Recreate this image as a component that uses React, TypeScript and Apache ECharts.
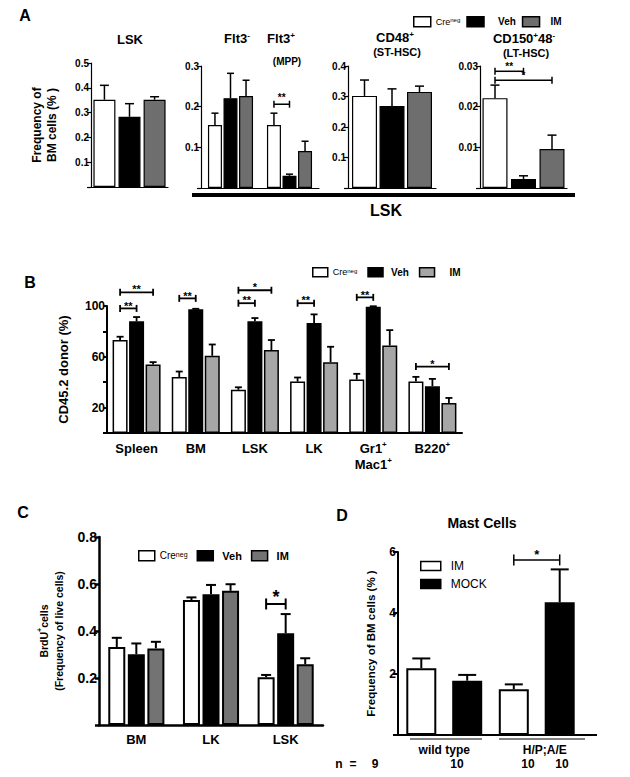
import React, { useEffect, useRef } from 'react';
import * as echarts from 'echarts';

const FONT = "'Liberation Sans', Arial, Helvetica, sans-serif";

// ---------- Panel A : frequency of BM cells (%) ----------
const aGroups = ['Creneg', 'Veh', 'IM'];
const aColors = ['#ffffff', '#000000', '#6e6e6e'];
const a1Cats = ['LSK'];
const a1Means = [[0.352], [0.283], [0.352]];
const a1Errs = [[0.41], [0.336], [0.364]];
const a1Axis = [0, 0.5, 0.1];
const a2Cats = ['Flt3-', 'Flt3+'];
const a2Means = [[0.155, 0.155], [0.221, 0.03], [0.226, 0.091]];
const a2Errs = [[0.184, 0.184], [0.282, 0.034], [0.265, 0.115]];
const a2Axis = [0, 0.3, 0.1];
const a2Sig = [[1, 0, 1, 1, 0.206]];
const a2SigLabels = ['**'];
const a3Cats = ['CD48+'];
const a3Means = [[0.302], [0.269], [0.315]];
const a3Errs = [[0.354], [0.325], [0.334]];
const a3Axis = [0, 0.4, 0.1];
const a4Cats = ['CD150+48-'];
const a4Means = [[0.0221], [0.0022], [0.0096]];
const a4Errs = [[0.0253], [0.003], [0.013]];
const a4Axis = [0, 0.03, 0.01];
const a4Sig = [[0, 0, 0, 1, 0.0287], [0, 0, 0, 2, 0.0265]];
const a4SigLabels = ['**', '*'];

// ---------- Panel B : CD45.2 donor (%) ----------
const bColors = ['#ffffff', '#000000', '#a6a6a6'];
const bCats = ['Spleen', 'BM', 'LSK', 'LK', 'Gr1+\nMac1+', 'B220+'];
const bMeans = [
  [73.2, 44, 34, 40.5, 42.1, 40.5],
  [87.9, 97.4, 87.9, 86.6, 99.5, 36.8],
  [53.9, 60.8, 65.3, 55.8, 68.9, 23.7],
];
const bErrs = [
  [75.8, 48.4, 36, 43.7, 46.6, 44.2],
  [91.3, 97.8, 90.5, 93.4, 99.8, 42.6],
  [55.8, 69.7, 73.2, 67.9, 81, 27.6],
];
const bAxis = [0, 100, 20];
const bTickLabels = [20, 60, 100];
const bSig = [
  [0, 0, 0, 1, 98.1],
  [0, 0, 0, 2, 110.8],
  [1, 0, 1, 1, 106],
  [2, 0, 2, 1, 102.2],
  [2, 0, 2, 2, 112.4],
  [3, 0, 3, 1, 102.2],
  [4, 0, 4, 1, 106.8],
  [5, 0, 5, 2, 52.3],
];
const bSigLabels = ['**', '**', '**', '**', '*', '**', '**', '*'];

// ---------- Panel C : BrdU+ cells ----------
const cColors = ['#ffffff', '#000000', '#737373'];
const cCats = ['BM', 'LK', 'LSK'];
const cMeans = [
  [0.332, 0.532, 0.203],
  [0.301, 0.556, 0.39],
  [0.326, 0.571, 0.258],
];
const cErrs = [
  [0.371, 0.543, 0.213],
  [0.347, 0.596, 0.472],
  [0.354, 0.599, 0.284],
];
const cAxis = [0, 0.8, 0.2];
const cSig = [[2, 0, 2, 1, 0.515]];
const cSigLabels = ['*'];

// ---------- Panel D : Mast cells ----------
const dGroups = ['IM', 'MOCK'];
const dColors = ['#ffffff', '#000000'];
const dCats = ['wild type', 'H/P;A/E'];
const dMeans = [
  [2.19, 1.5],
  [1.78, 4.35],
];
const dErrs = [
  [2.51, 1.66],
  [1.97, 5.43],
];
const dAxis = [0, 6, 2];
const dSig = [[1, 0, 1, 1, 5.74]];
const dSigLabels = ['*'];
const dN = ['9', '10', '10', '10'];

type PanelCfg = {
  grid: number;
  names: string[];
  colors: string[];
  means: number[][];
  errs: number[][];
  bw: number;
  gap: number;
  border: number;
  capW: number;
  errLW: number;
  sig?: number[][];
  sigLabels?: string[];
  sigFont?: number;
  starD?: number;
  tickH?: number;
  sigLW?: number;
};

function panelSeries(p: PanelCfg): any[] {
  const n = p.means.length;
  const step = p.bw * (1 + p.gap);
  const total = n * p.bw + (n - 1) * p.bw * p.gap;
  const xOf = (cx: number, i: number) => cx - total / 2 + i * step + p.bw / 2;
  const out: any[] = p.means.map((m, i) => ({
    type: 'bar',
    name: p.names[i],
    xAxisIndex: p.grid,
    yAxisIndex: p.grid,
    data: m,
    barWidth: p.bw,
    barGap: p.gap * 100 + '%',
    itemStyle: { color: p.colors[i], borderColor: '#000', borderWidth: p.border },
    emphasis: { disabled: true },
    silent: true,
  }));
  const errData: number[][] = [];
  p.means.forEach((m, i) => m.forEach((v, c) => errData.push([c, v, p.errs[i][c], i])));
  out.push({
    type: 'custom',
    name: 'err' + p.grid,
    xAxisIndex: p.grid,
    yAxisIndex: p.grid,
    data: errData,
    encode: { x: 0, y: [1, 2] },
    clip: false,
    silent: true,
    z: 3,
    renderItem: (params: any, api: any) => {
      const c = api.value(0);
      const v = api.value(1);
      const e = api.value(2);
      const i = api.value(3);
      const p0 = api.coord([c, v]);
      const p1 = api.coord([c, e]);
      const x = xOf(p0[0], i);
      const st = { stroke: '#000', lineWidth: p.errLW };
      return {
        type: 'group',
        children: [
          { type: 'line', shape: { x1: x, y1: p0[1], x2: x, y2: p1[1] }, style: st },
          { type: 'line', shape: { x1: x - p.capW / 2, y1: p1[1], x2: x + p.capW / 2, y2: p1[1] }, style: st },
        ],
      };
    },
  });
  if (p.sig) {
    const fs = p.sigFont || 10;
    const h = p.tickH || 3.5;
    const d = p.starD || 6;
    const lw = p.sigLW || 1.5;
    out.push({
      type: 'custom',
      name: 'sig' + p.grid,
      xAxisIndex: p.grid,
      yAxisIndex: p.grid,
      data: p.sig,
      encode: { x: 0, y: 4 },
      clip: false,
      silent: true,
      z: 4,
      renderItem: (params: any, api: any) => {
        const c1 = api.value(0);
        const i1 = api.value(1);
        const c2 = api.value(2);
        const i2 = api.value(3);
        const y = api.value(4);
        const pa = api.coord([c1, y]);
        const pb = api.coord([c2, y]);
        const x1 = xOf(pa[0], i1);
        const x2 = xOf(pb[0], i2);
        const yy = pa[1];
        const st = { stroke: '#000', lineWidth: lw };
        return {
          type: 'group',
          children: [
            { type: 'line', shape: { x1, y1: yy, x2, y2: yy }, style: st },
            { type: 'line', shape: { x1, y1: yy - h, x2: x1, y2: yy + h }, style: st },
            { type: 'line', shape: { x1: x2, y1: yy - h, x2, y2: yy + h }, style: st },
            {
              type: 'text',
              x: (x1 + x2) / 2,
              y: yy - d + 0.2 * fs,
              style: {
                text: (p.sigLabels || [])[params.dataIndex],
                fill: '#000',
                fontSize: fs,
                fontWeight: 'bold',
                fontFamily: FONT,
                align: 'center',
                verticalAlign: 'middle',
              },
            },
          ],
        };
      },
    });
  }
  return out;
}

function xCat(grid: number, data: string[], lw: number, label?: any): any {
  return {
    type: 'category',
    gridIndex: grid,
    data,
    axisTick: { show: false },
    axisLine: { show: true, lineStyle: { color: '#000', width: lw } },
    axisLabel: label || { show: false },
  };
}

function yVal(grid: number, ax: number[], fmt: (v: number) => string, fs: number, lw: number, tickLen: number, extra?: any): any {
  return {
    type: 'value',
    gridIndex: grid,
    min: ax[0],
    max: ax[1],
    interval: ax[2],
    axisLine: { show: true, lineStyle: { color: '#000', width: lw } },
    axisTick: { show: true, length: tickLen, lineStyle: { color: '#000', width: lw } },
    axisLabel: { formatter: fmt, color: '#000', fontSize: fs, fontWeight: 'bold', fontFamily: FONT, margin: 2 },
    splitLine: { show: false },
    ...(extra || {}),
  };
}

const fmt1 = (v: number) => (v === 0 ? '' : v.toFixed(1));
const fmt2 = (v: number) => (v === 0 ? '' : v.toFixed(2));
const fmtB = (v: number) => (bTickLabels.includes(Math.round(v)) ? String(Math.round(v)) : '');
const fmtD = (v: number) => (v === 0 ? '' : String(v));

function legendCfg(left: number, top: number, colors: string[], iw: number, ih: number, gap: number, fs: number, padV: number, padI: number): any {
  return {
    left,
    top,
    orient: 'horizontal',
    icon: 'rect',
    itemWidth: iw,
    itemHeight: ih,
    itemGap: gap,
    selectedMode: false,
    data: aGroups.map((nm, i) => ({
      name: nm,
      icon: 'rect',
      itemStyle: { color: colors[i], borderColor: '#000', borderWidth: 1.5 },
    })),
    formatter: (name: string) =>
      name === 'Creneg' ? '{r|Cre}{s|neg}' : name === 'Veh' ? '{v|Veh}' : '{m|IM}',
    textStyle: {
      color: '#000',
      fontFamily: FONT,
      rich: {
        r: { fontSize: fs - 1, fontFamily: FONT, color: '#000' },
        s: { fontSize: fs - 4, fontFamily: FONT, color: '#000', verticalAlign: 'top' },
        v: { fontSize: fs, fontWeight: 'bold', fontFamily: FONT, color: '#000', padding: [0, 0, 0, padV] },
        m: { fontSize: fs, fontWeight: 'bold', fontFamily: FONT, color: '#000', padding: [0, 0, 0, padI] },
      },
    },
  };
}

function supTitle(x: number, y: number, main: string, sup: string, fs: number): any {
  return {
    type: 'text',
    x,
    y,
    style: {
      text: '{t|' + main + '}' + (sup ? '{s|' + sup + '}' : ''),
      align: 'center',
      verticalAlign: 'middle',
      fill: '#000',
      rich: {
        t: { fontSize: fs, fontWeight: 'bold', fontFamily: FONT, fill: '#000' },
        s: { fontSize: fs - 5, fontWeight: 'bold', fontFamily: FONT, fill: '#000', verticalAlign: 'top' },
      },
    },
  };
}

function plainText(x: number, y: number, text: string, fs: number, bold = true, align = 'center'): any {
  return {
    type: 'text',
    x,
    y,
    style: {
      text,
      fill: '#000',
      fontSize: fs,
      fontWeight: bold ? 'bold' : 'normal',
      fontFamily: FONT,
      align,
      verticalAlign: 'middle',
    },
  };
}

function buildOption(): any {
  const series = [
    ...panelSeries({ grid: 0, names: aGroups, colors: aColors, means: a1Means, errs: a1Errs, bw: 22, gap: 0.14, border: 1.2, capW: 9, errLW: 1.5 }),
    ...panelSeries({ grid: 1, names: aGroups, colors: aColors, means: a2Means, errs: a2Errs, bw: 14, gap: 0.11, border: 1.2, capW: 7, errLW: 1.5, sig: a2Sig, sigLabels: a2SigLabels, sigFont: 10, starD: 9, tickH: 3.5 }),
    ...panelSeries({ grid: 2, names: aGroups, colors: aColors, means: a3Means, errs: a3Errs, bw: 25, gap: 0.1, border: 1.2, capW: 9, errLW: 1.5 }),
    ...panelSeries({ grid: 3, names: aGroups, colors: aColors, means: a4Means, errs: a4Errs, bw: 25, gap: 0.14, border: 1.2, capW: 9, errLW: 1.5, sig: a4Sig, sigLabels: a4SigLabels, sigFont: 10, starD: 7, tickH: 3.5 }),
    ...panelSeries({ grid: 4, names: aGroups, colors: bColors, means: bMeans, errs: bErrs, bw: 15, gap: 0.1, border: 1.5, capW: 7, errLW: 1.8, sig: bSig, sigLabels: bSigLabels, sigFont: 11, starD: 5, tickH: 3.5, sigLW: 1.8 }),
    ...panelSeries({ grid: 5, names: aGroups, colors: cColors, means: cMeans, errs: cErrs, bw: 17, gap: 0.15, border: 2, capW: 10, errLW: 2, sig: cSig, sigLabels: cSigLabels, sigFont: 18, starD: 11, tickH: 5.5, sigLW: 2 }),
    ...panelSeries({ grid: 6, names: dGroups, colors: dColors, means: dMeans, errs: dErrs, bw: 30, gap: 0.53, border: 2, capW: 18, errLW: 2, sig: dSig, sigLabels: dSigLabels, sigFont: 13, starD: 8, tickH: 5.5, sigLW: 1.5 }),
  ];

  const labelB = {
    show: true,
    interval: 0,
    margin: 7,
    color: '#000',
    fontSize: 13,
    fontWeight: 'bold',
    fontFamily: FONT,
    lineHeight: 16,
    formatter: (v: string) => v.replace(/\+/g, '{s|+}'),
    rich: { s: { fontSize: 8, fontWeight: 'bold', fontFamily: FONT, color: '#000', verticalAlign: 'top' } },
  };
  const labelC = { show: true, interval: 0, margin: 8, color: '#000', fontSize: 13, fontWeight: 'bold', fontFamily: FONT };
  const labelD = {
    show: true,
    interval: 0,
    margin: 9,
    color: '#000',
    fontSize: 12,
    fontWeight: 'bold',
    fontFamily: FONT,
    formatter: (v: string, i: number) => (i === 1 ? '{p|' + v + '}' : v),
    rich: { p: { fontSize: 12, fontWeight: 'bold', fontFamily: FONT, color: '#000', padding: [0, 0, 0, 16] } },
  };

  return {
    animation: false,
    backgroundColor: '#ffffff',
    textStyle: { fontFamily: FONT },
    grid: [
      { left: 91, top: 63, width: 77, height: 124 },
      { left: 201, top: 66, width: 118, height: 122 },
      { left: 348, top: 66, width: 88, height: 122 },
      { left: 480, top: 66, width: 87, height: 122 },
      { left: 107, top: 306, width: 355, height: 127 },
      { left: 99, top: 537, width: 224, height: 188 },
      { left: 398, top: 552, width: 185, height: 183 },
    ],
    xAxis: [
      xCat(0, a1Cats, 1.2),
      xCat(1, a2Cats, 1.2),
      xCat(2, a3Cats, 1.2),
      xCat(3, a4Cats, 1.2),
      xCat(4, bCats, 2, labelB),
      xCat(5, cCats, 2.5, labelC),
      xCat(6, dCats, 2, labelD),
    ],
    yAxis: [
      yVal(0, a1Axis, fmt1, 10, 1.2, 4, {
        name: 'Frequency of\nBM cells (% )',
        nameLocation: 'middle',
        nameRotate: 90,
        nameGap: 32,
        nameTextStyle: { fontSize: 12, fontWeight: 'bold', fontFamily: FONT, color: '#000', lineHeight: 15 },
      }),
      yVal(1, a2Axis, fmt1, 10, 1.2, 4),
      yVal(2, a3Axis, fmt1, 10, 1.2, 4),
      yVal(3, a4Axis, fmt2, 10, 1.2, 4),
      yVal(4, bAxis, fmtB, 12, 2, 4, {
        name: 'CD45.2 donor (%)',
        nameLocation: 'middle',
        nameRotate: 90,
        nameGap: 37,
        nameTextStyle: { fontSize: 13, fontWeight: 'bold', fontFamily: FONT, color: '#000' },
      }),
      yVal(5, cAxis, fmt1, 14, 2.5, 4, {
        name: '{a|BrdU}{s|+}{a|cells}\n{a|(Frequency of live cells)}',
        nameLocation: 'middle',
        nameRotate: 90,
        nameGap: 33,
        nameTextStyle: {
          color: '#000',
          lineHeight: 15,
          rich: {
            a: { fontSize: 10.5, fontWeight: 'bold', fontFamily: FONT, color: '#000', lineHeight: 15 },
            s: { fontSize: 7, fontWeight: 'bold', fontFamily: FONT, color: '#000', verticalAlign: 'top' },
          },
        },
      }),
      yVal(6, dAxis, fmtD, 12, 2, 5, {
        name: 'Frequency of BM cells (% )',
        nameLocation: 'middle',
        nameRotate: 90,
        nameGap: 21,
        nameTextStyle: { fontSize: 11.5, fontWeight: 'bold', fontFamily: FONT, color: '#000' },
      }),
    ],
    legend: [
      legendCfg(408, 11, aColors, 17, 10, 6, 10, 9, 6),
      legendCfg(307, 262, bColors, 15, 9, 10, 10, 3, 10),
      legendCfg(133, 545, cColors, 16, 10, 9, 11, 4, 4),
      {
        left: 415,
        top: 555,
        orient: 'vertical',
        icon: 'rect',
        itemWidth: 20,
        itemHeight: 9,
        itemGap: 6,
        selectedMode: false,
        data: dGroups.map((nm, i) => ({ name: nm, icon: 'rect', itemStyle: { color: dColors[i], borderColor: '#000', borderWidth: 1.5 } })),
        formatter: (name: string) => '{t|' + name + '}',
        textStyle: {
          color: '#000',
          rich: { t: { fontSize: 12, fontFamily: FONT, color: '#000', padding: [0, 0, 0, 5] } },
        },
      },
    ],
    graphic: [
      plainText(25, 15, 'A', 16),
      plainText(30, 282, 'B', 16),
      plainText(23, 512, 'C', 16),
      plainText(342, 515, 'D', 16),
      plainText(130, 39, 'LSK', 13),
      supTitle(237, 38, 'Flt3', '-', 13),
      supTitle(281, 38, 'Flt3', '+', 13),
      plainText(287, 61, '(MPP)', 10),
      supTitle(395, 37, 'CD48', '+', 13),
      plainText(397, 52, '(ST-HSC)', 11),
      {
        type: 'text',
        x: 524,
        y: 38,
        style: {
          text: '{t|CD150}{s|+}{t|48}{s|-}',
          align: 'center',
          verticalAlign: 'middle',
          fill: '#000',
          rich: {
            t: { fontSize: 13, fontWeight: 'bold', fontFamily: FONT, fill: '#000' },
            s: { fontSize: 8, fontWeight: 'bold', fontFamily: FONT, fill: '#000', verticalAlign: 'top' },
          },
        },
      },
      plainText(526, 53, '(LT-HSC)', 11),
      { type: 'rect', shape: { x: 192, y: 193, width: 383, height: 4 }, style: { fill: '#000' } },
      plainText(386, 210, 'LSK', 16),
      plainText(482, 523, 'Mast Cells', 14),
      { type: 'line', shape: { x1: 583, y1: 735, x2: 597, y2: 735 }, style: { stroke: '#000', lineWidth: 2 } },
      { type: 'line', shape: { x1: 410, y1: 739, x2: 482, y2: 739 }, style: { stroke: '#000', lineWidth: 1 } },
      { type: 'line', shape: { x1: 499, y1: 739, x2: 585, y2: 739 }, style: { stroke: '#000', lineWidth: 1 } },
      plainText(339, 764, 'n', 12),
      plainText(353, 764, '=', 12),
      plainText(375, 764, dN[0], 12),
      plainText(457, 764, dN[1], 12),
      plainText(528, 764, dN[2], 12),
      plainText(562, 764, dN[3], 12),
    ],
    series,
  };
}

export default function App() {
  const ref = useRef<HTMLDivElement>(null);
  useEffect(() => {
    if (!ref.current) return;
    const chart = echarts.init(ref.current, undefined, { renderer: 'svg' });
    chart.setOption(buildOption());
    return () => chart.dispose();
  }, []);
  return (
    <div
      ref={ref}
      style={{ position: 'absolute', left: 0, top: 0, width: 630, height: 777, background: '#fff' }}
    />
  );
}
